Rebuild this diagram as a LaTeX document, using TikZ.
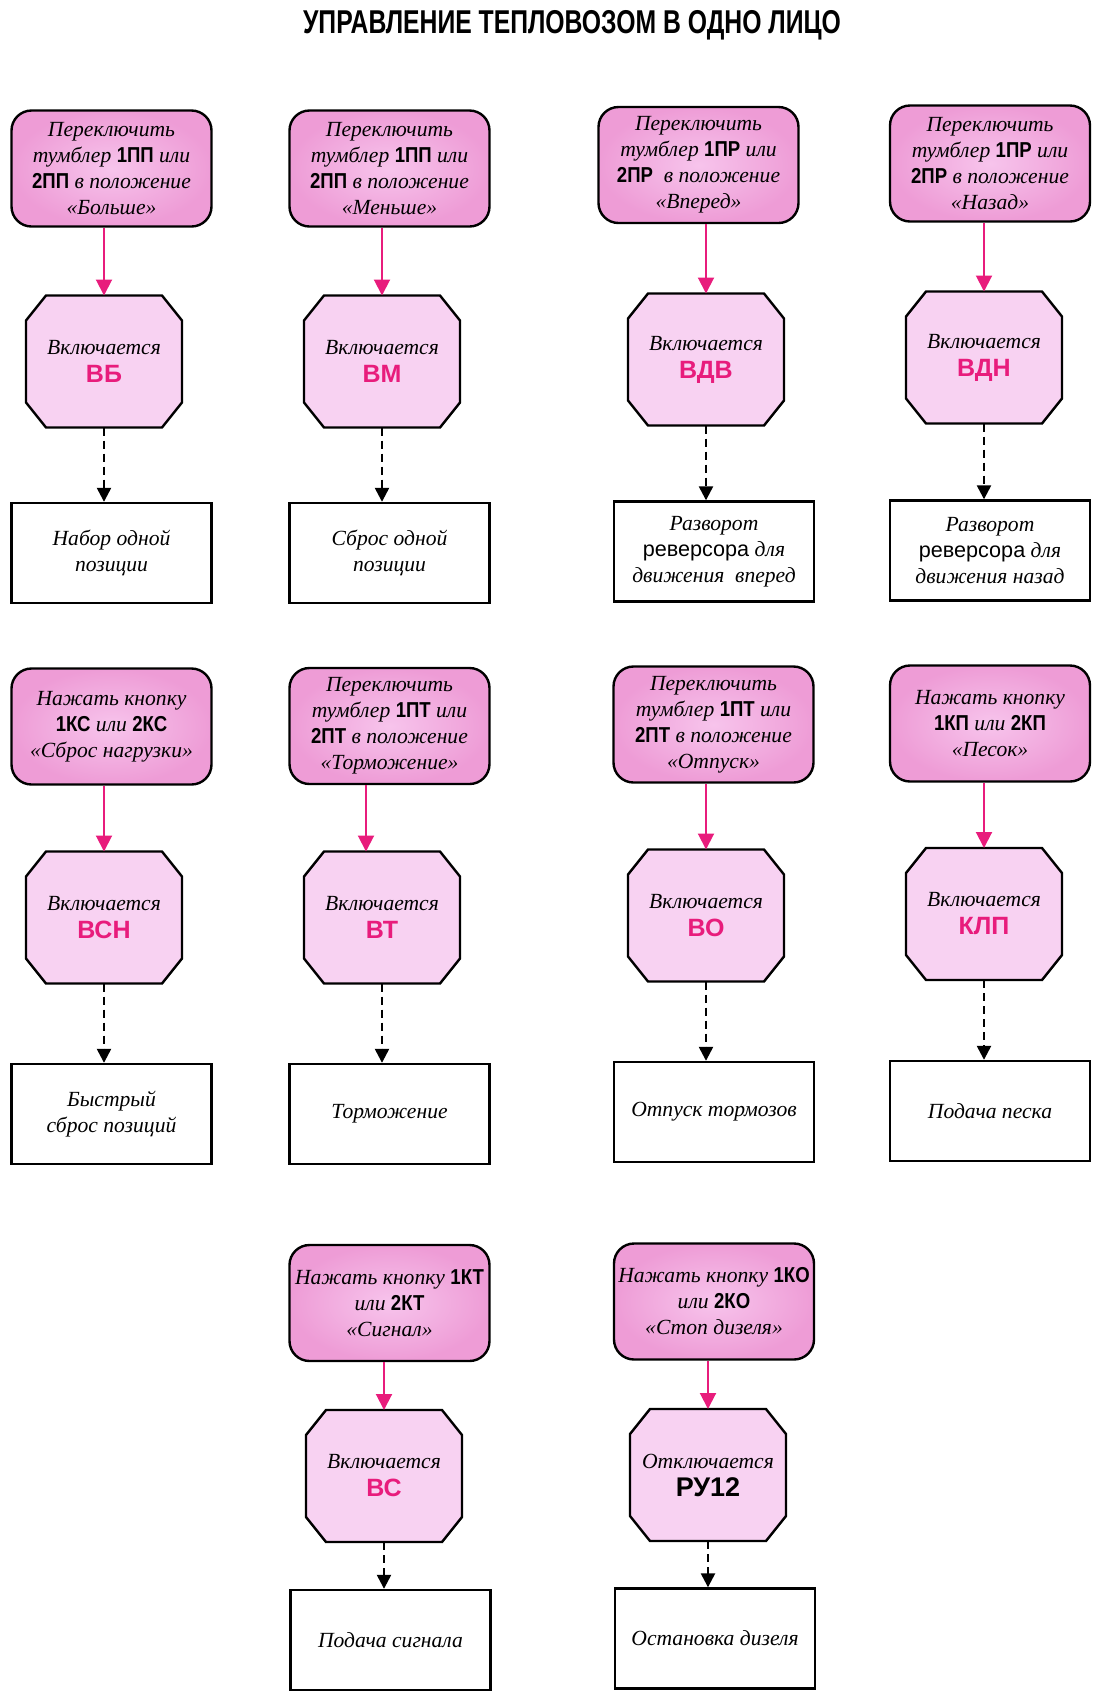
\documentclass[tikz,border=0pt]{standalone}
\usepackage{fontspec}
\setmainfont{Liberation Serif}
\setsansfont{Liberation Sans}
\newfontfamily\titlefont[FakeStretch=0.75]{Liberation Sans}
\newfontfamily\kodfont[FakeStretch=0.86]{Liberation Sans}
\usetikzlibrary{arrows.meta,backgrounds}
\tikzset{>=Triangle[]}

\definecolor{rozovyj}{RGB}{238,156,214}
\definecolor{rozovyjsvet}{RGB}{247,196,236}
\definecolor{oktsvet}{RGB}{248,210,242}
\definecolor{malina}{RGB}{232,28,124}

\newcommand{\kod}[1]{{\kodfont\bfseries\upshape #1}}
\newcommand{\vkl}[1]{{\sffamily\bfseries\upshape\color{malina}\fontsize{12.5}{14}\selectfont #1}}
% chamfered frame drawn behind a named node
\newcommand{\okt}[1]{%
  \begin{pgfonlayer}{background}
    \draw[oktrama] ([xshift=10pt]#1.north west) -- ([xshift=-10pt]#1.north east)
      -- ([yshift=-12.5pt]#1.north east) -- ([yshift=12.5pt]#1.south east)
      -- ([xshift=-10pt]#1.south east) -- ([xshift=10pt]#1.south west)
      -- ([yshift=12.5pt]#1.south west) -- ([yshift=-12.5pt]#1.north west) -- cycle;
  \end{pgfonlayer}}

\tikzset{
  komanda/.style={draw, line width=1.2pt, rounded corners=10pt,
    inner color=rozovyjsvet, outer color=rozovyj,
    minimum width=100pt, minimum height=58pt, align=center, inner sep=1pt,
    font=\itshape\fontsize{10.8}{13}\selectfont},
  apparat/.style={rectangle, outer sep=0pt, minimum width=78pt, minimum height=66pt,
    align=center, font=\itshape\fontsize{10.8}{14}\selectfont},
  oktrama/.style={draw, line width=1.2pt, line join=miter, fill=oktsvet},
  itog/.style={draw, line width=1.2pt, fill=white,
    minimum width=100pt, minimum height=50pt, align=center,
    font=\itshape\fontsize{10.8}{13}\selectfont},
  pusk/.style={->, draw=malina, line width=1pt, >={Triangle[length=8pt,width=8pt]}},
  sled/.style={->, line width=1.2pt, dash pattern=on 4pt off 2.5pt,
    >={Triangle[length=7pt,width=7pt]}}
}

\begin{document}
\begin{tikzpicture}[x=0.5pt, y=-0.5pt]
  \useasboundingbox (0,0) rectangle (1100,1705);

  \node (title) at (572, 25) {\titlefont\bfseries\fontsize{16.5}{18}\selectfont
    УПРАВЛЕНИЕ ТЕПЛОВОЗОМ В ОДНО ЛИЦО};

  % first row
  \node[komanda] (k1) at (111.5, 168.5) {Переключить\\ тумблер \kod{1ПП} или\\ \kod{2ПП} в положение\\ «Больше»};
  \node[komanda] (k2) at (389.5, 168.5) {Переключить\\ тумблер \kod{1ПП} или\\ \kod{2ПП} в положение\\ «Меньше»};
  \node[komanda] (k3) at (698.5, 165) {Переключить\\ тумблер \kod{1ПР} или\\ \kod{2ПР}\ \ в положение\\ «Вперед»};
  \node[komanda] (k4) at (990, 163.5) {Переключить\\ тумблер \kod{1ПР} или\\ \kod{2ПР} в положение\\ «Назад»};

  \node[apparat] (a1) at (104, 361.5) {Включается\\ \vkl{ВБ}};
  \node[apparat] (a2) at (382, 361.5) {Включается\\ \vkl{ВМ}};
  \node[apparat] (a3) at (706, 359.5) {Включается\\ \vkl{ВДВ}};
  \node[apparat] (a4) at (984, 357.5) {Включается\\ \vkl{ВДН}};

  \node[itog] (r1) at (111.5, 553) {Набор одной\\ позиции};
  \node[itog] (r2) at (389.5, 553) {Сброс одной\\ позиции};
  \node[itog] (r3) at (714, 551.5) {Разворот\\ {\sffamily\upshape реверсора} для\\ движения\ \ вперед};
  \node[itog] (r4) at (990, 550.5) {Разворот\\ {\sffamily\upshape реверсора} для\\ движения назад};

  % second row
  \node[komanda] (k5) at (111.5, 726.5) {Нажать кнопку\\ \kod{1КС} или \kod{2КС}\\ «Сброс нагрузки»};
  \node[komanda] (k6) at (389.5, 726) {Переключить\\ тумблер \kod{1ПТ} или\\ \kod{2ПТ} в положение\\ «Торможение»};
  \node[komanda] (k7) at (713.5, 724.5) {Переключить\\ тумблер \kod{1ПТ} или\\ \kod{2ПТ} в положение\\ «Отпуск»};
  \node[komanda] (k8) at (990, 723.5) {Нажать кнопку\\ \kod{1КП} или \kod{2КП}\\ «Песок»};

  \node[apparat] (a5) at (104, 917.5) {Включается\\ \vkl{ВСН}};
  \node[apparat] (a6) at (382, 917.5) {Включается\\ \vkl{ВТ}};
  \node[apparat] (a7) at (706, 915.5) {Включается\\ \vkl{ВО}};
  \node[apparat] (a8) at (984, 914) {Включается\\ \vkl{КЛП}};

  \node[itog] (r5) at (111.5, 1114) {Быстрый\\ сброс позиций};
  \node[itog] (r6) at (389.5, 1114) {Торможение};
  \node[itog] (r7) at (714, 1112) {Отпуск тормозов};
  \node[itog] (r8) at (990, 1111) {Подача песка};

  % third row
  \node[komanda] (k9) at (389.5, 1303) {Нажать кнопку \kod{1КТ}\\ или \kod{2КТ}\\ «Сигнал»};
  \node[komanda] (k10) at (714, 1301.5) {Нажать кнопку \kod{1КО}\\ или \kod{2КО}\\ «Стоп дизеля»};

  \node[apparat] (a9) at (384, 1476) {Включается\\ \vkl{ВС}};
  \node[apparat] (a10) at (708, 1475) {Отключается\\ {\sffamily\bfseries\upshape\fontsize{13.5}{15}\selectfont РУ12}};

  \node[itog] (r9) at (390.5, 1640) {Подача сигнала};
  \node[itog] (r10) at (715, 1638.5) {Остановка дизеля};

  \okt{a1} \okt{a2} \okt{a3} \okt{a4} \okt{a5}
  \okt{a6} \okt{a7} \okt{a8} \okt{a9} \okt{a10}

  \draw[pusk] (a1.north |- k1.south) -- (a1.north);
  \draw[pusk] (a2.north |- k2.south) -- (a2.north);
  \draw[pusk] (a3.north |- k3.south) -- (a3.north);
  \draw[pusk] (a4.north |- k4.south) -- (a4.north);
  \draw[pusk] (a5.north |- k5.south) -- (a5.north);
  \draw[pusk] ([xshift=-8pt]a6.north |- k6.south) -- ([xshift=-8pt]a6.north);
  \draw[pusk] (a7.north |- k7.south) -- (a7.north);
  \draw[pusk] (a8.north |- k8.south) -- (a8.north);
  \draw[pusk] (a9.north |- k9.south) -- (a9.north);
  \draw[pusk] (a10.north |- k10.south) -- (a10.north);

  \draw[sled] (a1.south) -- (a1.south |- r1.north);
  \draw[sled] (a2.south) -- (a2.south |- r2.north);
  \draw[sled] (a3.south) -- (a3.south |- r3.north);
  \draw[sled] (a4.south) -- (a4.south |- r4.north);
  \draw[sled] (a5.south) -- (a5.south |- r5.north);
  \draw[sled] (a6.south) -- (a6.south |- r6.north);
  \draw[sled] (a7.south) -- (a7.south |- r7.north);
  \draw[sled] (a8.south) -- (a8.south |- r8.north);
  \draw[sled] (a9.south) -- (a9.south |- r9.north);
  \draw[sled] (a10.south) -- (a10.south |- r10.north);
\end{tikzpicture}
\end{document}
